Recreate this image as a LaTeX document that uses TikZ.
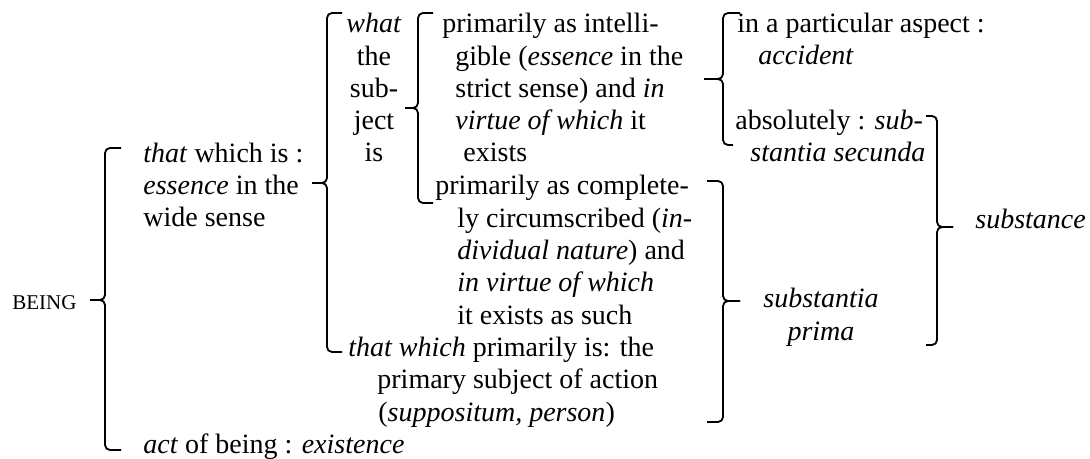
\documentclass[tikz,border=0pt]{standalone}
\usepackage{fontspec}
\setmainfont{Liberation Serif}[ItalicFont={Liberation Serif Italic},
  BoldFont={Liberation Serif Bold}]
\usetikzlibrary{positioning}

\begin{document}
\begin{tikzpicture}[
  x=0.5pt, y=-0.5pt,
  txt/.style={inner sep=0pt, anchor=base west, align=left,
    font=\fontsize{14}{16.15}\selectfont},
  mid/.style={txt, anchor=base, align=center},
  brk/.style={draw=black, line width=0.9pt, rounded corners=2.5pt}
]
\useasboundingbox (0,0) rectangle (1090,459);

% multi-line nodes sit on the baseline of their last line
\node[txt, font=\fontsize{10.5}{12}\selectfont] (being) at (12,309) {BEING};
\node[txt] (essence) at (143,227) {\textit{that} which is :\\\textit{essence} in the\\wide sense};
\node[txt] (act) at (143,453) {\textit{act} of being : \textit{existence}};
\node[mid] (what) at (374,162) {\textit{what}\\the\\sub-\\ject\\is};
\node[txt] (suppos) at (348,421) {\textit{that which} primarily is: the\\
  \hspace*{14.5pt}primary subject of action\\
  \hspace*{15pt}(\textit{suppositum, person})};
\node[txt] (intell) at (442,162) {primarily as intelli-\\
  \hspace*{6.5pt}gible (\textit{essence} in the\\
  \hspace*{6.5pt}strict sense) and \textit{in}\\
  \hspace*{6.5pt}\textit{virtue of which} it\\
  \hspace*{10.5pt}exists};
\node[txt] (individ) at (435,324) {primarily as complete-\\
  \hspace*{11pt}ly circumscribed (\textit{in-}\\
  \hspace*{11pt}\textit{dividual nature}) and\\
  \hspace*{11pt}\textit{in virtue of which}\\
  \hspace*{11pt}it exists as such};
\node[txt] (accid) at (737,65) {in a particular aspect :\\\hspace*{10.5pt}\textit{accident}};
\node[txt] (secunda) at (735,162) {absolutely : \textit{sub-}\\\hspace*{7.5pt}\textit{stantia secunda}};
\node[mid] (prima) at (821,340) {\textit{substantia}\\\textit{prima}};
\node[txt] (subst) at (975,229) {\textit{substance}};

% left braces
\draw[brk] (121,148) -- (105,148) -- (105,300) -- (90,300);
\draw[brk] (121,450) -- (105,450) -- (105,300) -- (90,300);
\draw[brk] (342,13) -- (327,13) -- (327,183) -- (312,183);
\draw[brk] (342,352) -- (327,352) -- (327,183) -- (312,183);
\draw[brk] (433,13) -- (418,13) -- (418,108) -- (405,108);
\draw[brk] (433,203) -- (418,203) -- (418,108) -- (405,108);
\draw[brk] (740,13) -- (723,13) -- (723,79) -- (704,79);
\draw[brk] (733,145) -- (723,145) -- (723,79) -- (704,79);
% right braces
\draw[brk] (707,181) -- (723,181) -- (723,301) -- (740,301);
\draw[brk] (707,422) -- (723,422) -- (723,301) -- (740,301);
\draw[brk] (926,116) -- (937,116) -- (937,227) -- (953,227);
\draw[brk] (926,345) -- (937,345) -- (937,227) -- (953,227);
\end{tikzpicture}
\end{document}
